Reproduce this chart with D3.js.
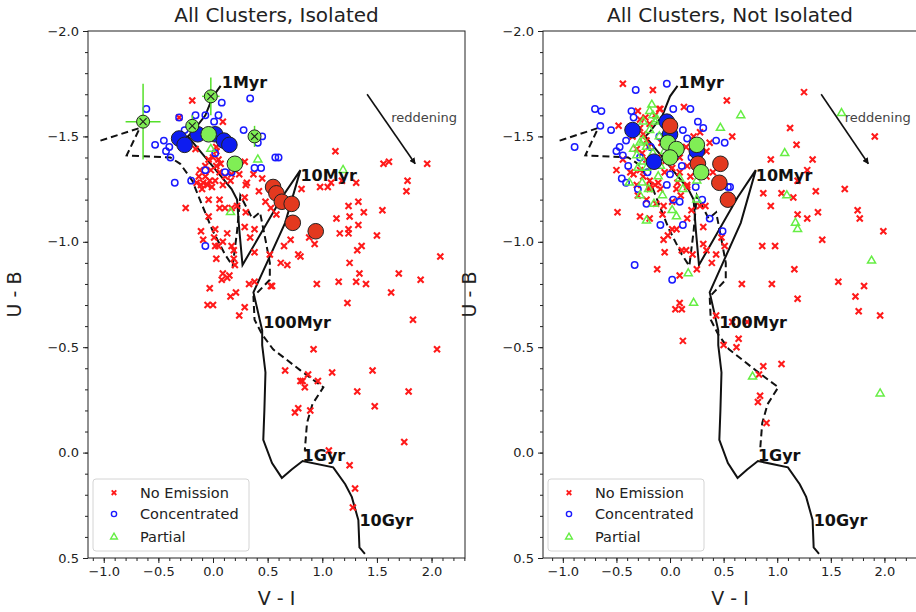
<!DOCTYPE html>
<html>
<head>
<meta charset="utf-8">
<title>All Clusters</title>
<script src="https://d3js.org/d3.v7.min.js"></script>
<style>
  body { margin: 0; background: #fff; }
  svg { display: block; font-family: "DejaVu Sans", sans-serif; }
</style>
</head>
<body>
<div id="container"></div>
<script>
const width = 916, height = 612;
const margin = { top: 31, bottom: 54 };

// axis ticks
const xTicks = [-1.0, -0.5, 0.0, 0.5, 1.0, 1.5, 2.0];
const yTicks = [-2.0, -1.5, -1.0, -0.5, 0.0, 0.5];
const yDomain = [-2.0, 0.5];

// model tracks, (V-I, U-B)
const trackSolid = [[0.07,-1.74],[0.00,-1.69],[-0.07,-1.60],[-0.19,-1.52],[-0.23,-1.50],[0.17,-1.25],[0.22,-1.20],
  [0.24,-1.06],[0.27,-0.89],[0.63,-1.21],[0.80,-1.34],[0.66,-1.09],[0.37,-0.76],[0.45,-0.58],[0.45,-0.51],
  [0.48,-0.38],[0.47,-0.20],[0.46,-0.06],[0.54,0.05],[0.63,0.12],[0.72,0.08],[0.82,0.04],[1.10,0.07],
  [1.21,0.15],[1.27,0.21],[1.33,0.32],[1.34,0.45],[1.39,0.48]];
const trackDashed = [[-1.03,-1.48],[-0.67,-1.54],[-0.79,-1.41],[-0.39,-1.40],[-0.30,-1.37],[-0.19,-1.29],
  [-0.12,-1.20],[-0.01,-1.06],[0.11,-0.94],[0.18,-0.885],[0.22,-1.05],[0.25,-1.22],[0.36,-1.11],[0.43,-1.14],
  [0.48,-1.01],[0.52,-0.90],[0.52,-0.82],[0.37,-0.74],[0.38,-0.63],[0.45,-0.56],[0.55,-0.49],[0.80,-0.39],
  [1.01,-0.31],[0.91,-0.23],[0.86,-0.14],[0.84,-0.01]];
const ageNames = ["1Myr", "10Myr", "100Myr", "1Gyr", "10Gyr"];
const agePos = [[0.08,-1.73],[0.80,-1.29],[0.46,-0.59],[0.82,0.04],[1.34,0.35]];
const arrowFrom = [1.41,-1.70], arrowTo = [1.85,-1.37];
const arrowText = [1.63,-1.57];

const legendNames = ["No Emission", "Concentrated", "Partial"];

// ---- Isolated
const isoNoEm = [[-0.19,-1.67],[0.09,-1.57],[-0.31,-1.59],[-0.16,-1.44],[0.03,-1.45],[0.03,-1.43],[0.05,-1.39],
  [-0.04,-1.39],[0.00,-1.40],[0.07,-1.37],[-0.07,-1.36],[0.03,-1.36],[-0.12,-1.34],[-0.02,-1.34],[0.06,-1.33],
  [-0.07,-1.31],[-0.13,-1.31],[-0.15,-1.28],[-0.09,-1.28],[-0.03,-1.29],[-0.01,-1.26],[0.09,-1.27],[0.16,-1.29],
  [0.24,-1.32],[0.31,-1.28],[0.29,-1.38],[0.37,-1.32],[0.11,-1.31],[-0.10,-1.25],[0.17,-1.32],[0.45,-1.30],[0.42,-1.24],
  [1.12,-1.43],[1.56,-1.37],[1.61,-1.38],[1.96,-1.37],
  [0.81,-1.25],[0.98,-1.26],[1.05,-1.26],[1.08,-1.28],[1.18,-1.29],[1.31,-1.28],[1.78,-1.29],[1.77,-1.24],
  [1.24,-1.17],[1.33,-1.19],[1.25,-1.12],[1.38,-1.14],[1.13,-1.11],[1.55,-1.15],[1.33,-1.08],[1.24,-1.06],
  [1.16,-1.04],[1.24,-1.04],[1.50,-1.03],[1.36,-0.98],[1.32,-0.96],[0.71,-1.01],[0.65,-0.98],[0.93,-0.99],
  [0.88,-1.02],[0.78,-0.94],[0.80,-0.93],[0.62,-0.90],[0.68,-0.89],[1.25,-0.90],[2.08,-0.93],[1.70,-0.85],
  [1.34,-0.85],[1.90,-0.82],[1.15,-0.81],[1.31,-0.81],[1.40,-0.80],[0.95,-0.80],[0.54,-0.79],[1.63,-0.76],
  [1.23,-0.71],[1.83,-0.63],[0.92,-0.49],[2.05,-0.49],
  [0.66,-0.39],[0.87,-0.37],[1.09,-0.38],[1.46,-0.39],[0.80,-0.34],[0.82,-0.34],[0.84,-0.31],[0.96,-0.34],
  [1.32,-0.29],[1.79,-0.29],[1.48,-0.22],[0.75,-0.19],[0.78,-0.21],[0.89,-0.20],[1.75,-0.05],[1.06,-0.01],
  [1.25,0.06],[1.30,0.17],[1.28,0.26],
  [-0.11,-1.27],[-0.05,-1.27],[0.02,-1.29],[0.30,-1.27],[-0.25,-1.16],[-0.04,-1.20],[0.06,-1.20],[0.29,-1.21],
  [0.48,-1.19],[0.53,-1.16],[0.58,-1.13],[0.06,-1.16],[0.11,-1.16],[0.17,-1.16],[0.22,-1.17],[-0.04,-1.12],
  [0.30,-1.14],[-0.11,-1.05],[-0.09,-1.01],[0.02,-1.06],[0.13,-1.04],[0.01,-1.02],[0.02,-0.98],[0.05,-0.98],
  [0.09,-1.00],[0.17,-0.98],[0.29,-1.07],[0.34,-1.02],[0.38,-1.06],[0.19,-0.96],[0.19,-0.92],[0.20,-0.89],
  [0.38,-0.95],[0.52,-0.94],[0.03,-0.92],[0.09,-0.85],[0.15,-0.84],[0.08,-0.82],[0.13,-0.83],[0.33,-0.80],
  [0.38,-0.81],[0.53,-0.79],[-0.03,-0.78],[0.21,-0.76],[0.16,-0.74],[-0.05,-0.70],[0.00,-0.70],[0.29,-0.69],
  [0.24,-0.65]];
const isoConc = [[-0.61,-1.63],[0.08,-1.66],[0.34,-1.68],[-0.31,-1.59],[-0.16,-1.60],[-0.07,-1.60],[0.05,-1.60],
  [0.01,-1.57],[-0.26,-1.53],[0.28,-1.53],[-0.53,-1.46],[-0.45,-1.48],[-0.40,-1.45],[-0.43,-1.43],[0.45,-1.50],
  [0.41,-1.47],[0.57,-1.40],[0.60,-1.40],[0.38,-1.35],[0.44,-1.35],[-0.35,-1.28],[-0.39,-1.40],[0.02,-1.42],
  [0.11,-1.33],[0.17,-1.33],[-0.07,-1.34],[-0.20,-1.29],[-0.07,-0.98]];
const isoPart = [[0.41,-1.39],[0.16,-1.14],[1.19,-1.34],[-0.02,-1.44]];
const isoBigBlue = [[-0.31,-1.49],[-0.26,-1.46],[-0.14,-1.51],[0.02,-1.51],[0.10,-1.48],[0.15,-1.46]];
const isoBigGreen = [[-0.04,-1.51],[0.20,-1.37]];
const isoBigRed = [[0.55,-1.26],[0.58,-1.23],[0.63,-1.19],[0.72,-1.18],[0.73,-1.09],[0.94,-1.05]];
// crossed partial clusters: x, y, x error, y error
const isoCrossed = [[-0.64,-1.57,0.16,0.18],[-0.02,-1.69,0.08,0.09],[-0.19,-1.55,0.03,0.05],[0.38,-1.50,0.02,0.05]];

// ---- Not isolated
const notNoEm = [[-0.30,-1.62],[-0.28,-1.58],[-0.23,-1.59],[-0.19,-1.56],[-0.14,-1.60],[-0.09,-1.63],[-0.28,-1.54],
  [-0.25,-1.51],[-0.22,-1.48],[-0.31,-1.44],[-0.26,-1.42],[-0.22,-1.39],[-0.16,-1.36],[-0.28,-1.34],[-0.34,-1.32],
  [-0.25,-1.31],[-0.19,-1.29],[-0.11,-1.28],[-0.31,-1.27],[-0.05,-1.33],[0.09,-1.33],[0.19,-1.31],[0.34,-1.31],
  [0.16,-1.27],[0.06,-1.25],[-0.09,-1.25],[-0.19,-1.26],[-0.44,-1.39],[-0.37,-1.33],[-0.50,-1.34],[0.22,-1.50],
  [0.34,-1.43],[0.40,-1.33],[0.09,-1.40],[0.16,-1.36],
  [-0.20,-1.45],[-0.12,-1.40],[-0.05,-1.38],[0.02,-1.35],[-0.30,-1.22],[-0.22,-1.20],[-0.13,-1.18],[0.10,-1.22],
  [0.20,-1.15],[-0.35,-1.50],[0.15,-1.45],[0.28,-1.52],[-0.08,-1.47],
  [-0.44,-1.75],[-0.16,-1.72],[0.53,-1.67],[0.13,-1.64],[-0.10,-1.63],[-0.48,-1.55],[0.58,-1.50],[0.37,-1.47],
  [1.25,-1.71],[1.12,-1.54],[1.18,-1.46],[1.91,-1.50],[0.94,-1.39],[1.33,-1.39],[1.28,-1.34],[1.19,-1.29],[1.63,-1.25],
  [0.87,-1.23],[1.04,-1.23],[1.15,-1.21],[1.36,-1.24],[0.94,-1.17],[1.19,-1.13],[1.38,-1.14],[1.28,-1.11],
  [1.75,-1.15],[1.77,-1.11],[1.99,-1.05],[1.42,-1.01],[0.86,-0.98],[0.98,-0.98],[1.16,-0.87],[0.67,-0.80],
  [0.95,-0.80],[1.57,-0.81],[1.81,-0.79],[1.73,-0.74],[1.19,-0.73],[1.76,-0.67],[1.96,-0.65],[0.58,-0.62],
  [0.72,-0.62],[0.64,-0.54],[0.62,-0.50],
  [0.87,-0.41],[1.04,-0.42],[0.83,-0.37],[0.84,-0.27],[0.82,-0.24],[0.90,-0.14],
  [-0.49,-1.14],[-0.28,-1.12],[-0.19,-1.11],[-0.07,-1.13],[0.16,-1.11],[0.06,-1.06],[0.02,-1.06],[0.31,-1.07],
  [-0.02,-1.03],[-0.06,-1.01],[0.48,-1.02],[0.51,-0.98],[-0.05,-0.95],[0.11,-0.96],[0.15,-0.96],[0.21,-0.94],
  [0.31,-0.99],[0.34,-0.96],[0.43,-0.94],[0.39,-0.90],[-0.12,-0.87],[0.25,-0.87],[0.09,-0.84],[0.09,-0.71],
  [0.05,-0.68],[0.11,-0.68],[0.12,-0.53],[0.43,-0.65],[0.50,-0.51],[0.33,-1.17],[-0.06,-1.17],
  [-0.14,-1.27],[0.07,-1.28],[0.16,-1.26],[-0.19,-1.25],[0.02,-1.19],[0.28,-1.17]];
const notConc = [[-0.03,-1.75],[-0.32,-1.72],[-0.70,-1.63],[-0.64,-1.62],[-0.65,-1.55],[-0.55,-1.53],[-0.89,-1.45],
  [-0.36,-1.62],[0.03,-1.63],[0.19,-1.63],[-0.34,-1.59],[0.26,-1.57],[0.31,-1.54],[0.12,-1.53],[0.16,-1.49],
  [0.43,-1.48],[0.51,-1.47],[-0.47,-1.45],[-0.50,-1.43],[-0.41,-1.48],[-0.39,-1.36],[0.11,-1.36],[0.54,-1.26],
  [-0.03,-1.27],[-0.41,-1.28],[-0.09,-1.08],[0.03,-1.20],[0.09,-1.19],[0.24,-1.26],[0.56,-1.26],[0.12,-1.08],
  [0.37,-1.11],[0.49,-1.05],[-0.33,-0.89],[0.02,-0.82],[-0.28,-1.40],[-0.44,-1.41],[-0.21,-1.33],[0.05,-1.41],
  [-0.10,-1.50],[0.20,-1.40],[-0.18,-1.45],[-0.45,-1.30],[-0.30,-1.25],[0.00,-1.32],[0.30,-1.20],[-0.22,-1.18]];
const notPart = [[-0.17,-1.65],[0.47,-1.54],[-0.19,-1.62],[-0.16,-1.60],[-0.14,-1.57],[-0.19,-1.53],[-0.25,-1.48],
  [-0.22,-1.45],[-0.31,-1.41],[-0.25,-1.38],[-0.22,-1.35],[-0.11,-1.31],[0.09,-1.30],[-0.28,-1.47],[-0.34,-1.44],
  [-0.09,-1.36],[-0.05,-1.43],[0.25,-1.29],[-0.26,-1.28],[-0.16,-1.42],[-0.12,-1.58],[-0.22,-1.10],[-0.07,-1.22],
  [0.06,-1.12],[0.25,-1.20],[0.17,-0.85],[0.22,-0.71],[0.66,-1.60],[1.60,-1.61],[1.07,-1.42],[1.09,-1.22],
  [1.17,-1.09],[1.19,-1.06],[1.88,-0.91],[0.77,-0.36],[1.96,-0.28],
  [-0.30,-1.35],[-0.20,-1.25],[-0.15,-1.18],[-0.10,-1.50],[-0.25,-1.57],[-0.32,-1.52],[0.12,-1.25],[0.02,-1.15],
  [-0.38,-1.28],[-0.28,-1.22]];
const notBigBlue = [[-0.35,-1.53],[-0.03,-1.57],[0.00,-1.51],[-0.15,-1.38],[0.25,-1.43]];
const notBigRed = [[0.00,-1.55],[0.47,-1.37],[0.26,-1.37],[0.46,-1.28],[0.54,-1.20]];
const notBigGreen = [[-0.02,-1.47],[0.06,-1.44],[0.00,-1.40],[0.25,-1.46],[0.29,-1.33]];

const colRed = "#ff1a1a", colBlue = "#1a1aff", colGreen = "#66ee44";
const fillBlue = "#0d1cf0", fillRed = "#e3391f", fillGreen = "#80ee55";

const svg = d3.select("#container").append("svg")
  .attr("width", width).attr("height", height);

svg.append("defs").append("marker")
  .attr("id", "arrowhead")
  .attr("viewBox", "0 -5 10 10")
  .attr("refX", 9).attr("refY", 0)
  .attr("markerWidth", 4).attr("markerHeight", 4)
  .attr("orient", "auto")
  .append("path").attr("d", "M0,-5L10,0L0,5Z").attr("fill", "#111");

const minus = s => s.replace("-", "\u2212");

function drawPanel(p) {
  const x = d3.scaleLinear().domain(p.xDomain).range([p.left, p.right]);
  const y = d3.scaleLinear().domain(yDomain).range([margin.top, height - margin.bottom]);

  svg.append("clipPath").attr("id", "clip-" + p.id)
    .append("rect")
    .attr("x", p.left).attr("y", margin.top)
    .attr("width", p.right - p.left).attr("height", height - margin.bottom - margin.top);

  const plot = svg.append("g").attr("clip-path", `url(#clip-${p.id})`);

  // tracks
  const line = d3.line().x(d => x(d[0])).y(d => y(d[1]));
  plot.append("path").datum(trackDashed).attr("d", line)
    .attr("fill", "none").attr("stroke", "#111").attr("stroke-width", 2)
    .attr("stroke-dasharray", "7,4");
  plot.append("path").datum(trackSolid).attr("d", line)
    .attr("fill", "none").attr("stroke", "#111").attr("stroke-width", 2);

  // small markers
  plot.selectAll(".noem").data(p.noEm).enter().append("path")
    .attr("transform", d => `translate(${x(d[0])},${y(d[1])})`)
    .attr("d", "M-3,-3L3,3M-3,3L3,-3")
    .attr("stroke", colRed).attr("stroke-width", 2.1);
  plot.selectAll(".conc").data(p.conc).enter().append("circle")
    .attr("cx", d => x(d[0])).attr("cy", d => y(d[1])).attr("r", 3.2)
    .attr("fill", "none").attr("stroke", colBlue).attr("stroke-width", 1.5);
  const tri = d3.symbol().type(d3.symbolTriangle).size(28);
  plot.selectAll(".part").data(p.part).enter().append("path")
    .attr("transform", d => `translate(${x(d[0])},${y(d[1])})`)
    .attr("d", tri)
    .attr("fill", "none").attr("stroke", colGreen).attr("stroke-width", 1.5);

  // age labels
  plot.selectAll(".age").data(ageNames).enter().append("text")
    .attr("x", (d, i) => x(agePos[i][0])).attr("y", (d, i) => y(agePos[i][1]))
    .attr("font-size", 16).attr("font-weight", "bold").attr("fill", "#111")
    .text(d => d);

  // error bars + crossed circles
  const crossed = p.crossed || [];
  crossed.forEach(d => {
    plot.append("line").attr("x1", x(d[0] - d[2])).attr("x2", x(d[0] + d[2]))
      .attr("y1", y(d[1])).attr("y2", y(d[1]))
      .attr("stroke", "#55e02a").attr("stroke-width", 1.5);
    plot.append("line").attr("x1", x(d[0])).attr("x2", x(d[0]))
      .attr("y1", y(d[1] - d[3])).attr("y2", y(d[1] + d[3]))
      .attr("stroke", "#55e02a").attr("stroke-width", 1.5);
  });

  // large markers
  const big = (data, fill) => plot.selectAll(null).data(data).enter().append("circle")
    .attr("cx", d => x(d[0])).attr("cy", d => y(d[1])).attr("r", 7.8)
    .attr("fill", fill).attr("stroke", "#222").attr("stroke-width", 1);
  big(p.bigBlue, fillBlue);
  big(p.bigRed, fillRed);
  big(p.bigGreen, fillGreen);

  crossed.forEach(d => {
    const cx = x(d[0]), cy = y(d[1]);
    plot.append("circle").attr("cx", cx).attr("cy", cy).attr("r", 6.5)
      .attr("fill", fillGreen).attr("stroke", "#222").attr("stroke-width", 1);
    plot.append("path")
      .attr("d", `M${cx - 3.5},${cy - 3.5}L${cx + 3.5},${cy + 3.5}M${cx - 3.5},${cy + 3.5}L${cx + 3.5},${cy - 3.5}`)
      .attr("stroke", "#222").attr("stroke-width", 1.2);
  });

  // reddening vector
  plot.append("line")
    .attr("x1", x(arrowFrom[0])).attr("y1", y(arrowFrom[1]))
    .attr("x2", x(arrowTo[0])).attr("y2", y(arrowTo[1]))
    .attr("stroke", "#111").attr("stroke-width", 1.6)
    .attr("marker-end", "url(#arrowhead)");
  plot.append("text")
    .attr("x", x(arrowText[0])).attr("y", y(arrowText[1]))
    .attr("font-size", 13).attr("fill", "#444")
    .text("reddening");

  // frame
  svg.append("rect")
    .attr("x", p.left).attr("y", margin.top)
    .attr("width", p.right - p.left).attr("height", height - margin.bottom - margin.top)
    .attr("fill", "none").attr("stroke", "#222").attr("stroke-width", 1);

  // axes
  const xMinor = d3.range(-12, 24).map(i => i / 10).filter(v => v >= p.xDomain[0] && v <= p.xDomain[1]);
  const yMinor = d3.range(-20, 6).map(i => i / 10);

  const gx = svg.append("g").attr("transform", `translate(0,${height - margin.bottom})`);
  gx.append("g").call(d3.axisBottom(x).tickValues(xMinor).tickSize(3).tickFormat(""));
  gx.append("g").call(d3.axisBottom(x).tickValues(xTicks).tickSize(5).tickPadding(4)
    .tickFormat(d => minus(d3.format(".1f")(d))));
  const gy = svg.append("g").attr("transform", `translate(${p.left},0)`);
  gy.append("g").call(d3.axisLeft(y).tickValues(yMinor).tickSize(3).tickFormat(""));
  gy.append("g").call(d3.axisLeft(y).tickValues(yTicks).tickSize(5).tickPadding(4)
    .tickFormat(d => minus(d3.format(".1f")(d))));
  svg.selectAll(".domain").remove();
  svg.selectAll(".tick line").attr("stroke", "#222");
  svg.selectAll(".tick text").attr("font-size", 13).attr("fill", "#222")
    .attr("font-family", "DejaVu Sans");

  // titles
  svg.append("text")
    .attr("x", (p.left + p.right) / 2).attr("y", 22)
    .attr("text-anchor", "middle").attr("font-size", 20).attr("fill", "#222")
    .text(p.title);
  svg.append("text")
    .attr("x", (p.left + p.right) / 2).attr("y", 605)
    .attr("text-anchor", "middle").attr("font-size", 19).attr("fill", "#222")
    .text("V - I");
  svg.append("text")
    .attr("transform", `translate(${p.left - 67},${(margin.top + height - margin.bottom) / 2}) rotate(-90)`)
    .attr("text-anchor", "middle").attr("font-size", 19).attr("fill", "#222")
    .text("U - B");

  // legend
  const lg = svg.append("g").attr("transform", `translate(${p.left + 5},479)`);
  lg.append("rect").attr("width", 156).attr("height", 72).attr("rx", 3)
    .attr("fill", "#fff").attr("fill-opacity", 0.85)
    .attr("stroke", "#d4d4d4").attr("stroke-width", 1);
  const rows = [13.7, 35, 58];
  lg.append("path")
    .attr("transform", `translate(21,${rows[0]})`)
    .attr("d", "M-2.3,-2.3L2.3,2.3M-2.3,2.3L2.3,-2.3")
    .attr("stroke", colRed).attr("stroke-width", 1.8);
  lg.append("circle").attr("cx", 21).attr("cy", rows[1]).attr("r", 2.6)
    .attr("fill", "none").attr("stroke", colBlue).attr("stroke-width", 1.4);
  lg.append("path").attr("transform", `translate(21,${rows[2]})`)
    .attr("d", d3.symbol().type(d3.symbolTriangle).size(20))
    .attr("fill", "none").attr("stroke", colGreen).attr("stroke-width", 1.4);
  lg.selectAll(".lt").data(legendNames).enter().append("text")
    .attr("x", 47).attr("y", (d, i) => rows[i]).attr("dy", "0.36em")
    .attr("font-size", 14.5).attr("fill", "#222")
    .text(d => d);
}

drawPanel({
  id: "iso", title: "All Clusters, Isolated", left: 88, right: 465, xDomain: [-1.144, 2.306],
  noEm: isoNoEm, conc: isoConc, part: isoPart,
  bigBlue: isoBigBlue, bigRed: isoBigRed, bigGreen: isoBigGreen, crossed: isoCrossed
});
drawPanel({
  id: "not", title: "All Clusters, Not Isolated", left: 543, right: 917, xDomain: [-1.185, 2.304],
  noEm: notNoEm, conc: notConc, part: notPart,
  bigBlue: notBigBlue, bigRed: notBigRed, bigGreen: notBigGreen
});
</script>
</body>
</html>
